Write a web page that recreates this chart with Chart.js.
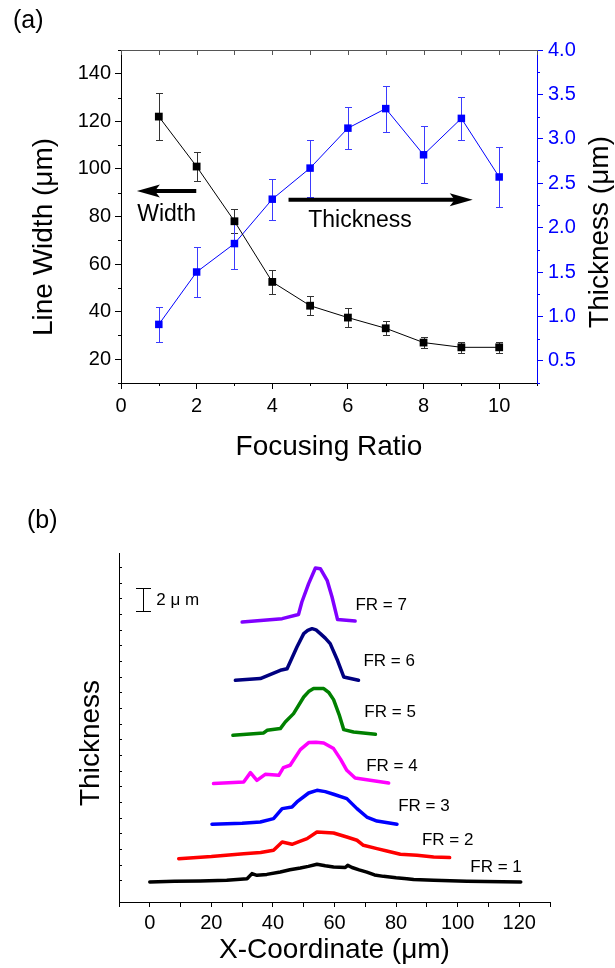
<!DOCTYPE html>
<html>
<head>
<meta charset="utf-8">
<script src="https://cdn.jsdelivr.net/npm/chart.js@4.4.0/dist/chart.umd.min.js"></script>
<style>
  html, body { margin: 0; padding: 0; background: #fff; }
  #chartA { position: absolute; left: 0; top: 0; }
  #chartB { position: absolute; left: 0; top: 480px; }
</style>
</head>
<body>
<canvas id="chartA" width="615" height="480"></canvas>
<canvas id="chartB" width="615" height="488"></canvas>
<script>
// (a) line width / thickness vs focusing ratio
const focusRatio = [1, 2, 3, 4, 5, 6, 7, 8, 9, 10];
const lineWidthUm = [122, 101, 78, 52.5, 42.5, 37.5, 33, 27, 25, 25];
const lineWidthErr = [10, 6, 5, 5, 4, 4, 3, 2.4, 2.4, 2.4];
const thicknessUm = [0.91, 1.50, 1.82, 2.32, 2.67, 3.12, 3.34, 2.82, 3.23, 2.57];
const thicknessErr = [0.20, 0.28, 0.29, 0.23, 0.32, 0.24, 0.26, 0.32, 0.24, 0.34];

// (b) stacked thickness profiles, x in um, y offset in um
const fr1X = [0, 8, 16.4, 25, 31.6, 33.2, 34.8, 38, 42.4, 45.5, 48.9, 51.5, 54.3, 57, 59.7, 63.5, 64.3, 65.7, 68, 70.5, 73, 75.9, 80, 83.5, 85.7, 92.2, 103, 120.5];
const fr1Y = [1.74, 1.8, 1.83, 1.9, 2.03, 2.47, 2.32, 2.4, 2.61, 2.8, 2.96, 3.1, 3.28, 3.15, 3.04, 3.0, 3.19, 3.0, 2.8, 2.6, 2.35, 2.23, 2.1, 2.03, 1.95, 1.9, 1.8, 1.74];
const fr2X = [9.4, 20, 30.5, 36, 40.2, 43, 46.2, 48.5, 51.1, 54.3, 57, 59.7, 64, 67.3, 69.4, 73.8, 77, 81.4, 86.8, 92.2, 97.4];
const fr2Y = [3.77, 3.95, 4.2, 4.3, 4.5, 5.22, 5.02, 5.25, 5.51, 6.09, 6.05, 6.0, 5.65, 5.37, 4.93, 4.64, 4.44, 4.15, 4.06, 3.91, 3.86];
const fr3X = [20.2, 30, 35.9, 40.2, 43, 46.2, 47.8, 51.6, 54.3, 57, 59.7, 64, 67.3, 70.5, 73.8, 80.3];
const fr3Y = [6.76, 6.85, 6.96, 7.25, 8.12, 8.26, 8.7, 9.48, 9.71, 9.6, 9.37, 8.99, 8.12, 7.39, 7.04, 6.76];
const fr4X = [20.7, 30.5, 32.7, 34.8, 37.5, 41.9, 43.4, 45.6, 48.9, 51.6, 54, 56.5, 59.7, 62, 64, 66.7, 70.5, 77.6];
const fr4Y = [10.3, 10.43, 11.25, 10.58, 11.1, 11.02, 11.69, 11.89, 13.25, 13.86, 13.9, 13.83, 13.34, 12.4, 11.45, 10.78, 10.64, 10.35];
const fr5X = [27, 37, 38.1, 42.4, 44, 46.7, 50, 51.6, 53.2, 56.5, 58.2, 59.7, 61.5, 63, 66.2, 73.3];
const fr5Y = [14.5, 14.7, 14.93, 15.08, 15.65, 16.38, 17.83, 18.3, 18.56, 18.56, 18.2, 17.6, 16.3, 14.99, 14.78, 14.58];
const fr6X = [27.8, 35.9, 42.4, 44.6, 47.8, 50, 51.3, 52.7, 54, 55.4, 57, 58.6, 61, 63, 67.8];
const fr6Y = [19.28, 19.43, 20.15, 20.29, 22.17, 23.34, 23.62, 23.77, 23.66, 23.34, 22.95, 22.47, 21.0, 19.57, 19.28];
const fr7X = [30, 43, 48.3, 49.4, 51.6, 53.8, 55.4, 57.6, 59.2, 61, 66.7];
const fr7Y = [24.35, 24.64, 25.0, 26.09, 27.69, 29.04, 28.99, 27.97, 26.52, 24.56, 24.43];
const frNames = ['FR = 1', 'FR = 2', 'FR = 3', 'FR = 4', 'FR = 5', 'FR = 6', 'FR = 7'];

const FONT = "'Liberation Sans', Arial, sans-serif";
Chart.defaults.font.family = FONT;
Chart.defaults.color = '#000';

const pts = (xs, ys) => xs.map((x, i) => ({ x: x, y: ys[i] }));

function drawArrow(ctx, x1, y, x2) {
  const dir = Math.sign(x2 - x1);
  ctx.lineWidth = 4;
  ctx.beginPath();
  ctx.moveTo(x1, y);
  ctx.lineTo(x2 - dir * 16, y);
  ctx.stroke();
  ctx.beginPath();
  ctx.moveTo(x2, y);
  ctx.lineTo(x2 - dir * 23, y - 6.5);
  ctx.lineTo(x2 - dir * 18, y);
  ctx.lineTo(x2 - dir * 23, y + 6.5);
  ctx.closePath();
  ctx.fill();
}

function vText(ctx, text, cx, cy, size, color) {
  ctx.save();
  ctx.translate(cx, cy);
  ctx.rotate(-Math.PI / 2);
  ctx.font = size + 'px ' + FONT;
  ctx.fillStyle = color;
  ctx.textAlign = 'center';
  ctx.textBaseline = 'middle';
  ctx.fillText(text, 0, 0);
  ctx.restore();
}

const errorBars = {
  id: 'errorBars',
  beforeDatasetsDraw(chart) {
    const ctx = chart.ctx;
    chart.data.datasets.forEach(ds => {
      if (!ds.errors) return;
      const xs = chart.scales.x;
      const ys = chart.scales[ds.yAxisID];
      ctx.save();
      ctx.strokeStyle = ds.errorColor;
      ctx.lineWidth = 1;
      ds.data.forEach((p, j) => {
        const px = Math.round(xs.getPixelForValue(p.x)) + 0.5;
        const top = Math.round(ys.getPixelForValue(p.y + ds.errors[j])) + 0.5;
        const bot = Math.round(ys.getPixelForValue(p.y - ds.errors[j])) + 0.5;
        ctx.beginPath();
        ctx.moveTo(px, top); ctx.lineTo(px, bot);
        ctx.moveTo(px - 3.5, top); ctx.lineTo(px + 3.5, top);
        ctx.moveTo(px - 3.5, bot); ctx.lineTo(px + 3.5, bot);
        ctx.stroke();
      });
      ctx.restore();
    });
  }
};

const isMajorY = v => v % 20 === 0;
const isMajorY2 = v => Math.abs(v * 2 - Math.round(v * 2)) < 1e-6;
const isMajorX = v => v % 2 === 0;

const decorA = {
  id: 'decorA',
  afterDraw(chart) {
    const { ctx, chartArea: a, scales: { x, y, y2, xTop } } = chart;
    ctx.save();
    ctx.lineWidth = 1;
    // short minor ticks
    ctx.strokeStyle = '#000';
    y.ticks.forEach(t => {
      if (isMajorY(t.value)) return;
      const py = Math.round(y.getPixelForValue(t.value)) + 0.5;
      ctx.beginPath(); ctx.moveTo(a.left - 3, py); ctx.lineTo(a.left, py); ctx.stroke();
    });
    x.ticks.forEach(t => {
      if (isMajorX(t.value)) return;
      const px = Math.round(x.getPixelForValue(t.value)) + 0.5;
      ctx.beginPath(); ctx.moveTo(px, a.bottom); ctx.lineTo(px, a.bottom + 3); ctx.stroke();
    });
    ctx.strokeStyle = '#555';
    xTop.ticks.forEach(t => {
      const px = Math.round(xTop.getPixelForValue(t.value)) + 0.5;
      ctx.beginPath(); ctx.moveTo(px, a.top); ctx.lineTo(px, a.top + 5); ctx.stroke();
    });
    ctx.strokeStyle = '#0000ff';
    y2.ticks.forEach(t => {
      if (isMajorY2(t.value)) return;
      const py = Math.round(y2.getPixelForValue(t.value)) + 0.5;
      ctx.beginPath(); ctx.moveTo(a.right, py); ctx.lineTo(a.right + 3, py); ctx.stroke();
    });

    // arrows and their labels
    ctx.fillStyle = '#000';
    ctx.strokeStyle = '#000';
    drawArrow(ctx, x.getPixelForValue(1.99), y.getPixelForValue(90.7), x.getPixelForValue(0.42));
    drawArrow(ctx, x.getPixelForValue(4.43), y.getPixelForValue(87.0), x.getPixelForValue(9.3));
    ctx.font = '23px ' + FONT;
    ctx.textAlign = 'left';
    ctx.textBaseline = 'middle';
    ctx.fillText('Width', x.getPixelForValue(0.43), y.getPixelForValue(80.7));
    ctx.fillText('Thickness', x.getPixelForValue(4.95), y.getPixelForValue(78.3));

    // panel label and side titles
    ctx.font = '25px ' + FONT;
    ctx.fillText('(a)', 13, 21);
    ctx.restore();
    vText(ctx, 'Line Width (μm)', 44, 237, 28, '#000');
    vText(ctx, 'Thickness (μm)', 600, 232, 28, '#000');
  }
};

new Chart(document.getElementById('chartA'), {
  type: 'line',
  data: {
    datasets: [
      {
        label: 'Width',
        data: pts(focusRatio, lineWidthUm),
        errors: lineWidthErr,
        errorColor: '#333',
        yAxisID: 'y',
        borderColor: '#000',
        backgroundColor: '#000',
        borderWidth: 1,
        pointStyle: 'rect',
        pointRadius: 5.5,
        pointBorderWidth: 0
      },
      {
        label: 'Thickness',
        data: pts(focusRatio, thicknessUm),
        errors: thicknessErr,
        errorColor: '#3b3bff',
        yAxisID: 'y2',
        borderColor: '#0000ff',
        backgroundColor: '#0000ff',
        borderWidth: 1,
        pointStyle: 'rect',
        pointRadius: 5.3,
        pointBorderWidth: 0
      }
    ]
  },
  options: {
    responsive: false,
    animation: false,
    layout: { padding: { top: 50, left: 0, right: 0, bottom: 0 } },
    plugins: { legend: { display: false }, tooltip: { enabled: false } },
    scales: {
      x: {
        type: 'linear', position: 'bottom', min: 0, max: 11,
        ticks: {
          stepSize: 1, autoSkip: false, maxRotation: 0, padding: 5,
          font: { size: 20 }, color: '#000',
          callback: v => isMajorX(v) && v <= 10 ? v : ''
        },
        grid: {
          drawOnChartArea: false, tickLength: 6,
          tickColor: c => c.tick && isMajorX(c.tick.value) ? '#000' : 'rgba(0,0,0,0)'
        },
        border: { color: '#000', width: 1 },
        title: { display: true, text: 'Focusing Ratio', font: { size: 28 }, color: '#000', padding: { top: 0, bottom: 16 } },
        afterFit: s => { s.height = 97; }
      },
      xTop: {
        type: 'linear', position: 'top', min: 0, max: 11,
        ticks: { display: false, stepSize: 1 },
        grid: { drawOnChartArea: false, drawTicks: false },
        border: { color: '#555', width: 1 },
        afterFit: s => { s.height = 0; }
      },
      y: {
        type: 'linear', position: 'left', min: 10, max: 150,
        ticks: {
          stepSize: 10, autoSkip: false, padding: 4,
          font: { size: 20 }, color: '#000',
          callback: v => isMajorY(v) && v < 150 ? v : ''
        },
        grid: {
          drawOnChartArea: false, tickLength: 6,
          tickColor: c => c.tick && isMajorY(c.tick.value) ? '#000' : 'rgba(0,0,0,0)'
        },
        border: { color: '#000', width: 1 },
        afterFit: s => { s.width = 121; }
      },
      y2: {
        type: 'linear', position: 'right', min: 0.25, max: 4.0,
        ticks: {
          stepSize: 0.25, autoSkip: false, padding: 5,
          font: { size: 20 }, color: '#0000ff',
          callback: v => isMajorY2(v) ? v.toFixed(1) : ''
        },
        grid: {
          drawOnChartArea: false, tickLength: 6,
          tickColor: c => c.tick && isMajorY2(c.tick.value) ? '#0000ff' : 'rgba(0,0,0,0)'
        },
        border: { color: '#0000ff', width: 1 },
        afterFit: s => { s.width = 78; }
      }
    }
  },
  plugins: [errorBars, decorA]
});

// (b)
const profileColors = ['#000000', '#ff0000', '#0000ff', '#ff00ff', '#008000', '#000080', '#8000ff'];
const profiles = [[fr1X, fr1Y], [fr2X, fr2Y], [fr3X, fr3Y], [fr4X, fr4Y], [fr5X, fr5Y], [fr6X, fr6Y], [fr7X, fr7Y]];
const frLabelPos = [[104.1, 3.04], [88.4, 5.37], [80.7, 8.35], [70.3, 11.8], [69.7, 16.5], [69.4, 20.96], [66.8, 25.8]];
const yTickStepB = 1.3625;
const yFirstTickB = 1.89;

const decorB = {
  id: 'decorB',
  afterDraw(chart) {
    const { ctx, chartArea: a, scales: { x, y } } = chart;
    ctx.save();
    ctx.strokeStyle = '#000';
    ctx.fillStyle = '#000';
    ctx.lineWidth = 1;
    // inward ticks on the unlabeled thickness axis
    y.ticks.forEach(t => {
      const py = Math.round(y.getPixelForValue(t.value)) + 0.5;
      ctx.beginPath(); ctx.moveTo(a.left, py); ctx.lineTo(a.left + 3, py); ctx.stroke();
    });
    // 2 um scale bar
    const bx = Math.round(x.getPixelForValue(-2.2)) + 0.5;
    const bTop = Math.round(y.getPixelForValue(27.3)) + 0.5;
    const bBot = Math.round(y.getPixelForValue(25.3)) + 0.5;
    ctx.beginPath();
    ctx.moveTo(bx, bTop); ctx.lineTo(bx, bBot);
    ctx.moveTo(bx - 7.5, bTop); ctx.lineTo(bx + 7.5, bTop);
    ctx.moveTo(bx - 7.5, bBot); ctx.lineTo(bx + 7.5, bBot);
    ctx.stroke();
    ctx.font = '17px ' + FONT;
    ctx.textAlign = 'left';
    ctx.textBaseline = 'middle';
    ctx.fillText('2 μ m', x.getPixelForValue(2.1), y.getPixelForValue(26.2));
    frNames.forEach((n, i) => {
      ctx.fillText(n, x.getPixelForValue(frLabelPos[i][0]), y.getPixelForValue(frLabelPos[i][1]));
    });
    ctx.font = '25px ' + FONT;
    ctx.fillText('(b)', 27, 41);
    ctx.restore();
    vText(ctx, 'Thickness', 91, 263, 28, '#000');
  }
};

new Chart(document.getElementById('chartB'), {
  type: 'line',
  data: {
    datasets: profiles.map((p, i) => ({
      label: frNames[i],
      data: pts(p[0], p[1]),
      borderColor: profileColors[i],
      borderWidth: 3.5,
      borderCapStyle: 'round',
      borderJoinStyle: 'round',
      pointRadius: 0,
      tension: 0
    }))
  },
  options: {
    responsive: false,
    animation: false,
    layout: { padding: { top: 73, left: 0, right: 65, bottom: 0 } },
    plugins: { legend: { display: false }, tooltip: { enabled: false } },
    scales: {
      x: {
        type: 'linear', min: -10, max: 130,
        ticks: {
          stepSize: 10, autoSkip: false, maxRotation: 0, padding: 4,
          font: { size: 20 }, color: '#000',
          callback: v => v % 20 === 0 && v >= 0 && v <= 120 ? v : ''
        },
        grid: { drawOnChartArea: false, tickLength: 5, tickColor: '#000' },
        border: { color: '#000', width: 1 },
        title: { display: true, text: 'X-Coordinate (μm)', font: { size: 28 }, color: '#000', padding: { top: 0, bottom: 1 } },
        afterFit: s => { s.height = 66; }
      },
      y: {
        type: 'linear', min: 0, max: 30.35,
        afterBuildTicks: s => {
          const t = [];
          for (let v = yFirstTickB; v < s.max; v += yTickStepB) t.push({ value: v });
          s.ticks = t;
        },
        ticks: { display: false },
        grid: { drawOnChartArea: false, drawTicks: false },
        border: { color: '#000', width: 1 },
        afterFit: s => { s.width = 119; }
      }
    }
  },
  plugins: [decorB]
});
</script>
</body>
</html>
